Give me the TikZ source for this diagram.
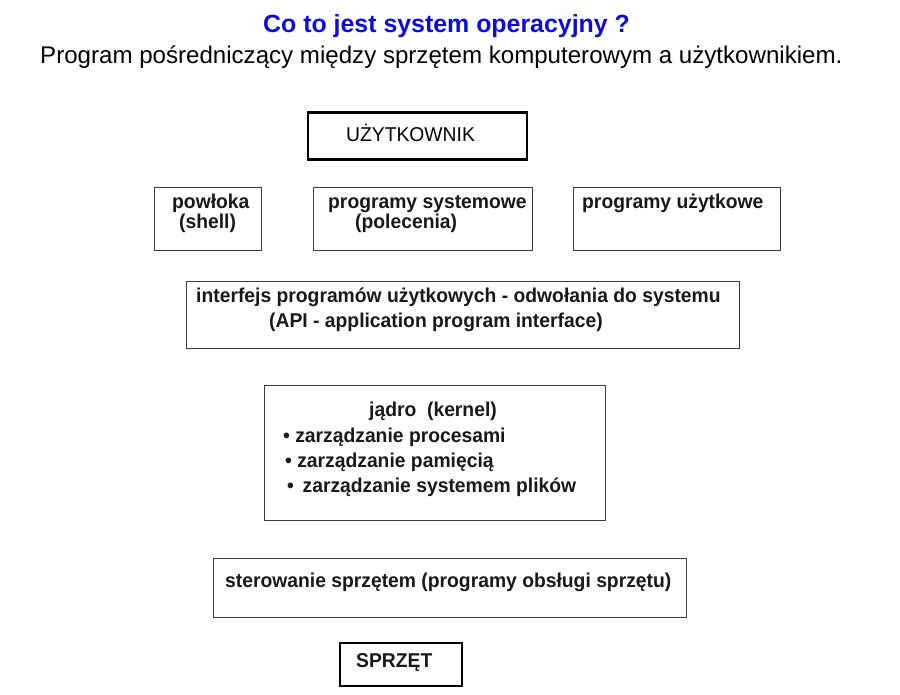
\documentclass[tikz,border=0pt]{standalone}
\usepackage{fontspec}
\setmainfont{Liberation Sans}
\newfontfamily\boxfont[FakeStretch=0.965]{Liberation Sans}
\definecolor{titleblue}{RGB}{10,10,225}
\definecolor{boxgray}{RGB}{60,60,60}
\begin{document}
\begin{tikzpicture}[x=1pt,y=-1pt,
  box/.style={draw=boxgray,line width=1.1pt,inner sep=0pt,anchor=north west},
  thickbox/.style={draw=black,line width=2.4pt,inner sep=0pt,anchor=north west},
  lbl/.style={anchor=base west,inner sep=0pt,font=\boxfont\fontsize{20}{23}\selectfont\bfseries,text=black!90},
  lblr/.style={anchor=base west,inner sep=0pt,font=\boxfont\fontsize{20}{23}\selectfont,text=black}]
\useasboundingbox (0,0) rectangle (900,695);
% title
\node[anchor=base west,inner sep=0pt,font=\fontsize{24.9}{28}\selectfont\bfseries,text=titleblue] (title) at (263,33) {Co to jest system operacyjny ?};
\node[anchor=base west,inner sep=0pt,font=\fontsize{24.1}{28}\selectfont] (subtitle) at (40,64) {Program pośredniczący między sprzętem komputerowym a użytkownikiem.};
% boxes
\node[thickbox,minimum width=219pt,minimum height=47pt] (user) at (307,111.5) {};
\node[box,minimum width=107pt,minimum height=63pt] (shell) at (154,187) {};
\node[box,minimum width=219pt,minimum height=63pt] (sysprog) at (313,187) {};
\node[box,minimum width=207pt,minimum height=63pt] (userprog) at (573,187) {};
\node[box,minimum width=553pt,minimum height=67pt] (api) at (186,281) {};
\node[box,minimum width=341pt,minimum height=135pt] (kernel) at (264,385) {};
\node[box,minimum width=473pt,minimum height=59pt] (hwctl) at (213,558) {};
\node[thickbox,minimum width=122pt,minimum height=43pt] (hw) at (339,641.5) {};
% texts
\node[lblr] (tuser) at (346,142) {UŻYTKOWNIK};
\node[lbl] (tshell1) at (172,209) {powłoka};
\node[lbl] (tshell2) at (179,229) {(shell)};
\node[lbl] (tsys1) at (328,209) {programy systemowe};
\node[lbl] (tsys2) at (355,229) {(polecenia)};
\node[lbl] (tuprog) at (582,209) {programy użytkowe};
\node[lbl] (tapi1) at (196,302) {interfejs programów użytkowych - odwołania do systemu};
\node[lbl] (tapi2) at (269,327) {(API - application program interface)};
\node[lbl] (tker) at (369,416) {jądro\ \ (kernel)};
\node[lbl] (tk1) at (283,442) {\textbullet\ zarządzanie procesami};
\node[lbl] (tk2) at (285,467) {\textbullet\ zarządzanie pamięcią};
\node[lbl] (tk3) at (287,492) {\textbullet\ \,zarządzanie systemem plików};
\node[lbl] (thwctl) at (225,587) {sterowanie sprzętem (programy obsługi sprzętu)};
\node[lbl] (thw) at (356,667) {SPRZĘT};
\end{tikzpicture}
\end{document}
